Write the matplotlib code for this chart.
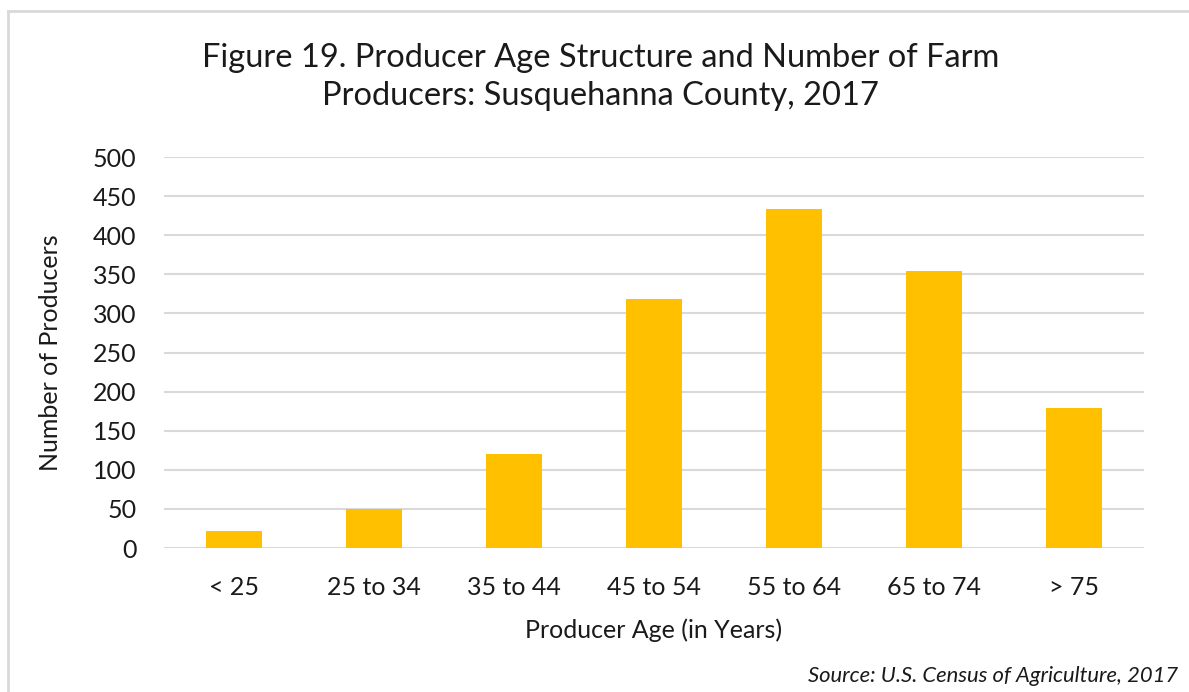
import matplotlib.pyplot as plt
from matplotlib.lines import Line2D

# Data
age_groups = ['< 25', '25 to 34', '35 to 44', '45 to 54', '55 to 64', '65 to 74', '> 75']
producers = [22, 50, 120, 318, 433, 354, 179]

plt.rcParams['font.family'] = ['Lato', 'DejaVu Sans']

fig = plt.figure(figsize=(11.89, 6.92), dpi=100)
ax = fig.add_axes([0.138, 0.208, 0.824, 0.565])

ax.bar(age_groups, producers, width=0.4, color='#FFC000', zorder=3)
ax.set_ylim(0, 500)
ax.set_xlim(-0.5, len(age_groups) - 0.5)
ax.set_yticks(range(0, 501, 50))
ax.yaxis.grid(True, color='#D9D9D9', linewidth=1.5, zorder=0)
for s in ax.spines.values():
    s.set_visible(False)
ax.tick_params(axis='both', length=0, labelsize=18, colors='#1a1a1a')
ax.tick_params(axis='x', pad=20)
ax.tick_params(axis='y', pad=20)

ax.set_xlabel('Producer Age (in Years)', fontsize=18, color='#1a1a1a', labelpad=14)
ax.set_ylabel('Number of Producers', fontsize=18, color='#1a1a1a', labelpad=22)

fig.text(0.505, 0.889, 'Figure 19. Producer Age Structure and Number of Farm\nProducers: Susquehanna County, 2017',
         ha='center', va='center', fontsize=23.5, color='#1a1a1a', linespacing=1.35)
fig.text(0.991, 0.008, 'Source: U.S. Census of Agriculture, 2017', ha='right', va='bottom',
         fontsize=15.8, style='italic', color='#1a1a1a')

# light frame on the left and top edges
fig.add_artist(Line2D([8 / 1189, 8 / 1189], [0, 1 - 11 / 692], transform=fig.transFigure,
                      color='#D9D9D9', linewidth=2))
fig.add_artist(Line2D([8 / 1189, 1], [1 - 11 / 692, 1 - 11 / 692], transform=fig.transFigure,
                      color='#D9D9D9', linewidth=2))

fig.savefig('out.png', dpi=100)
